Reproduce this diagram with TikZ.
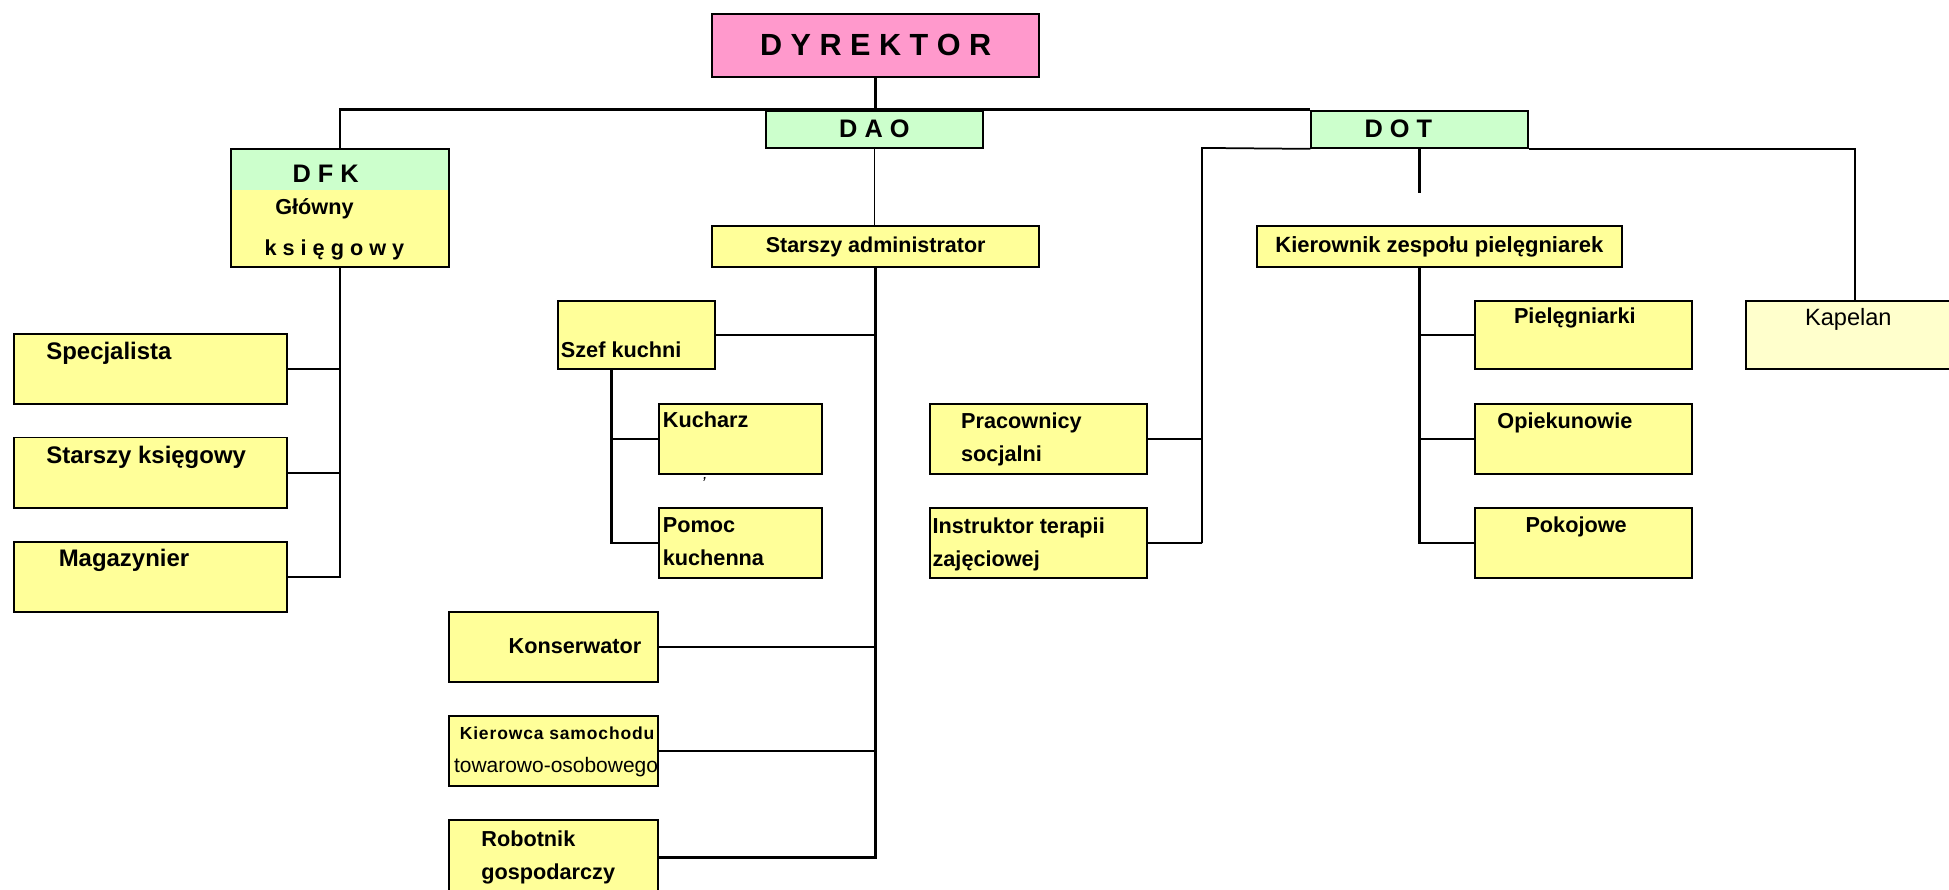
\documentclass[tikz,border=0pt]{standalone}
\usepackage{fontspec}
\setmainfont{Liberation Sans}
\definecolor{rozowy}{HTML}{FF99CC}
\definecolor{zielony}{HTML}{CCFFCC}
\definecolor{zolty}{HTML}{FFFF99}
\definecolor{jasnyzolty}{HTML}{FFFFCC}
\tikzset{
  box/.style={rectangle, draw=black, line width=1.1pt, fill=zolty, inner sep=0pt},
  bw/.style={minimum width=#1*0.025cm},
  bh/.style={minimum height=#1*0.025cm},
  lab/.style={inner sep=0pt, align=left, font=\fontsize{12.4}{19}\selectfont\bfseries},
  duzy/.style={font=\fontsize{13.7}{19}\selectfont\bfseries},
  conn/.style={line width=1.4pt},
  linka/.style={line width=1pt}
}

\begin{document}
\begin{tikzpicture}[x=0.025cm, y=-0.025cm]
\useasboundingbox (0,0) rectangle (1568,716);
\clip (0,0) rectangle (1568,716);

% gora
\node (dyr) [box, fill=rozowy, bw=263, bh=51, font=\fontsize{17.5}{20}\selectfont\bfseries] at (704.5,36.5) {D Y R E K T O R};
\node (dao) [box, fill=zielony, bw=175, bh=30, font=\fontsize{14.5}{17}\selectfont\bfseries] at (703.5,104) {D A O};
\node (dot) [box, fill=zielony, bw=174, bh=30] at (1142,104) {};
\node (dot-t) [lab, font=\fontsize{14.5}{17}\selectfont\bfseries] at (1125,104) {D O T};
\node (dfk) [box, bw=175, bh=95, path picture={\fill[zielony] (path picture bounding box.north west) rectangle ++(175,33);}] at (273.5,167.5) {};
\node (dfk-t) [lab, font=\fontsize{14.5}{17}\selectfont\bfseries] at (262,140) {D F K};
\node (dfk-t2) [lab] at (253,168) {Główny};
\node (dfk-t3) [lab] at (269,201) {k s i ę g o w y};

% DFK
\node (spec) [box, bw=220, bh=56] at (121,297) {};
\node (spec-t) [lab, duzy, anchor=west] at (37,284) {Specjalista};
\node (sksi) [box, bw=220, bh=57] at (121,380.5) {};
\node (sksi-t) [lab, duzy, anchor=west] at (37,368) {Starszy księgowy};
\node (mag) [box, bw=220, bh=56] at (121,464) {};
\node (mag-t) [lab, duzy, anchor=west] at (47,451) {Magazynier};

% DAO
\node (sadm) [box, bw=263, bh=33] at (704.5,198.5) {\fontsize{12.3}{15}\selectfont\bfseries Starszy administrator};
\node (szef) [box, bw=126, bh=55] at (512,269.5) {};
\node (szef-t) [lab, anchor=west] at (451,281) {Szef kuchni};
\node (kuch) [box, bw=131, bh=56] at (595.5,353) {};
\node (kuch-t) [lab, anchor=west] at (533,338) {Kucharz};
\node (znak) [inner sep=0pt, font=\fontsize{10}{10}\selectfont\itshape] at (566,389) {'};
\node (pomoc) [box, bw=131, bh=56] at (595.5,437) {};
\node (pomoc-t) [lab, anchor=west] at (533,436) {Pomoc\\kuchenna};
\node (kons) [box, bw=168, bh=57] at (445,520.5) {};
\node (kons-t) [lab, anchor=west] at (409,520) {Konserwator};
\node (kier) [box, bw=168, bh=56] at (445,604) {};
\node (kier-t) [lab, anchor=west] at (365,605) {{\fontsize{10}{19}\selectfont\addfontfeature{LetterSpace=5}\ Kierowca samochodu}\\{\mdseries\fontsize{12}{19}\selectfont towarowo-osobowego}};
\node (rob) [box, bw=168, bh=60] at (445,690) {};
\node (rob-t) [lab, anchor=west] at (387,690) {Robotnik\\gospodarczy};

% DOT
\node (kzp) [box, bw=294, bh=33] at (1158,198.5) {\fontsize{12.6}{15}\selectfont\bfseries Kierownik zespołu pielęgniarek};
\node (prac) [box, bw=175, bh=56] at (835.5,353) {};
\node (prac-t) [lab, anchor=west] at (773,353.5) {Pracownicy\\socjalni};
\node (instr) [box, bw=175, bh=56] at (835.5,437) {};
\node (instr-t) [lab, anchor=west] at (750,438) {Instruktor terapii\\zajęciowej};
\node (piel) [box, bw=174, bh=55] at (1274,269.5) {};
\node (piel-t) [lab] at (1267,256) {Pielęgniarki};
\node (opie) [box, bw=174, bh=56] at (1274,353) {};
\node (opie-t) [lab] at (1259,340) {Opiekunowie};
\node (poko) [box, bw=174, bh=56] at (1274,437) {};
\node (poko-t) [lab] at (1268,424) {Pokojowe};
\node (kap) [box, fill=jasnyzolty, bw=175, bh=55] at (1492.5,269.5) {};
\node (kap-t) [inner sep=0pt, font=\fontsize{13.5}{16}\selectfont] at (1487,257) {Kapelan};

% linie
\draw[conn] (dyr.south) -- (dyr.south |- dao.north);
\draw[conn] (dfk.north) |- (dot.north west);
\draw[linka] (dao.south) -- (dao.south |- sadm.north);

\draw[conn] (dfk.south) |- (mag.east);
\draw[conn] (spec.east) -- (spec.east -| dfk.south);
\draw[conn] (sksi.east) -- (sksi.east -| dfk.south);

\draw[conn] (sadm.south) |- (rob.east);
\draw[conn] (szef.east) -- (szef.east -| sadm.south);
\draw[linka] (kons.east) -- (kons.east -| sadm.south);
\draw[linka] (kier.east) -- (kier.east -| sadm.south);
\coordinate (szefpion) at (492,297);
\draw[conn] (szefpion) |- (pomoc.west);
\draw[conn] (kuch.west) -- (kuch.west -| szefpion);

\coordinate (stub) at (1142,155);
\draw[conn] (dot.south) -- (stub);
\coordinate (lewy) at (967,119);
\draw[linka] (instr.east -| lewy) -- (lewy) -- (dot.south west);
\draw[conn] (prac.east) -- (prac.east -| lewy);
\draw[conn] (instr.east) -- (instr.east -| lewy);
\draw[linka] (dot.south east) -| (kap.north);
\draw[conn] (kzp.south -| dot.south) |- (poko.west);
\draw[conn] (piel.west) -- (piel.west -| dot.south);
\draw[conn] (opie.west) -- (opie.west -| dot.south);
\end{tikzpicture}
\end{document}
